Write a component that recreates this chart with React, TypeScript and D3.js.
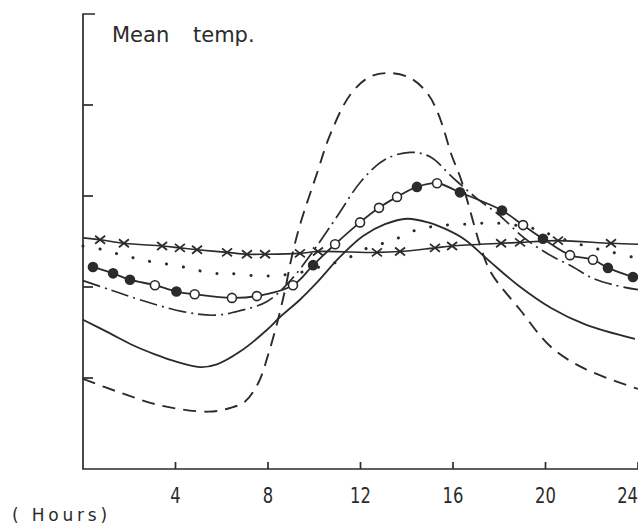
import * as d3 from "d3"

// x axis: hours of the day
const hourTicks = [4, 8, 12, 16, 20, 24]
// y axis: arbitrary mean temperature units
const tempTicks = [1, 2, 3, 4]

// [hour, temp] pairs
const longDash: [number, number][] = [
  [0, 0.99], [1.6, 0.84], [3.33, 0.7], [5.41, 0.63], [6.36, 0.67], [7.0, 0.74],
  [7.57, 0.94], [8.0, 1.25], [8.39, 1.6], [8.74, 1.97], [9.0, 2.3], [9.38, 2.68],
  [10.12, 3.25], [10.68, 3.67], [11.55, 4.11], [12.41, 4.31], [13.36, 4.35],
  [14.2, 4.29], [14.92, 4.12], [15.35, 3.91], [15.65, 3.69], [15.91, 3.47],
  [16.35, 3.18], [16.74, 2.84], [17.17, 2.46], [17.64, 2.16], [18.9, 1.75],
  [20.24, 1.34], [21.71, 1.1], [24, 0.88],
]

const dashDot: [number, number][] = [
  [0, 2.07], [1.17, 1.97], [2.46, 1.86], [4.32, 1.73], [5.71, 1.69], [6.79, 1.74],
  [7.96, 1.84], [9.0, 2.08], [10.0, 2.41], [11.0, 2.78], [12.02, 3.16], [13.06, 3.4],
  [14.14, 3.48], [15.01, 3.43], [16.0, 3.2], [17.0, 2.98], [18.0, 2.79], [18.98, 2.56],
  [20.06, 2.37], [21.19, 2.22], [22.01, 2.1], [23.0, 2.02], [24, 1.97],
]

const circleLine: [number, number][] = [
  [0.43, 2.22], [1.3, 2.15], [2.03, 2.08], [3.11, 2.02], [4.04, 1.95], [4.83, 1.92],
  [6.44, 1.88], [7.52, 1.9], [9.08, 2.02], [9.95, 2.24], [10.9, 2.47], [11.98, 2.71],
  [12.8, 2.87], [13.58, 2.99], [14.44, 3.1], [15.31, 3.14], [16.3, 3.04], [18.12, 2.84],
  [19.03, 2.68], [19.89, 2.53], [21.06, 2.35], [22.05, 2.3], [22.7, 2.21], [23.78, 2.11],
]
// which circle markers are filled (1) or open (0)
const circleFilled = [1, 1, 1, 0, 1, 0, 0, 0, 0, 1, 0, 0, 0, 0, 1, 0, 1, 1, 0, 1, 0, 0, 1, 1]

const crossLine: [number, number][] = [
  [0, 2.54], [0.74, 2.52], [1.77, 2.48], [3.42, 2.45], [4.19, 2.43], [4.93, 2.41],
  [6.23, 2.38], [7.09, 2.36], [7.87, 2.36], [9.38, 2.37], [10.16, 2.39], [12.71, 2.38],
  [13.71, 2.39], [15.22, 2.43], [15.96, 2.45], [18.08, 2.48], [18.9, 2.49], [20.54, 2.51],
  [22.83, 2.48], [24, 2.47],
]
// markers drawn on every point except the ends
const crossMarked = [0, 1, 1, 1, 1, 1, 1, 1, 1, 1, 1, 1, 1, 1, 1, 1, 1, 1, 1, 0]

const dotted: [number, number][] = [
  [0, 2.45], [0.86, 2.41], [1.69, 2.35], [2.38, 2.31], [3.11, 2.27], [3.98, 2.24],
  [4.84, 2.19], [5.62, 2.15], [6.27, 2.15], [7.09, 2.13], [7.87, 2.12], [8.52, 2.13],
  [9.25, 2.15], [10.08, 2.21], [10.81, 2.26], [11.55, 2.33], [12.32, 2.43], [13.1, 2.49],
  [13.75, 2.55], [14.44, 2.63], [15.01, 2.66], [15.65, 2.68], [16.52, 2.69], [17.25, 2.7],
  [18.03, 2.7], [18.9, 2.67], [19.68, 2.63], [20.28, 2.57], [21.19, 2.49], [22.05, 2.43],
  [22.92, 2.38], [23.74, 2.33],
]

const solid: [number, number][] = [
  [0, 1.64], [1.17, 1.49], [2.16, 1.36], [3.11, 1.26], [3.89, 1.19], [5.06, 1.12],
  [5.79, 1.15], [6.79, 1.29], [7.96, 1.53], [8.52, 1.67], [9.38, 1.86], [10.12, 2.05],
  [11.11, 2.33], [12.11, 2.56], [13.06, 2.69], [14.01, 2.75], [14.92, 2.71],
  [15.74, 2.63], [16.52, 2.52], [17.64, 2.27], [18.81, 2.02], [20.24, 1.77],
  [21.71, 1.59], [23.87, 1.43],
]

const W = 638
const H = 524
const ink = "#2b2b2b"

export default function App() {
  const x = d3.scaleLinear().domain([0, 24]).range([83, 638])
  const y = d3.scaleLinear().domain([0, 5]).range([469, 14])

  const line = d3
    .line<[number, number]>()
    .x((d) => x(d[0]))
    .y((d) => y(d[1]))
    .curve(d3.curveCatmullRom.alpha(0.5))

  return (
    <svg
      width={W}
      height={H}
      style={{ position: "absolute", left: 0, top: 0, background: "#fff" }}
      fontFamily="DejaVu Sans, sans-serif"
    >
      <rect width={W} height={H} fill="#fff" />

      {/* axes */}
      <g stroke={ink} strokeWidth={1.7} fill="none">
        <path d={`M${x(0) + 12},${y(5)}H${x(0)}V${y(0)}H${x(24)}`} />
        {tempTicks.map((t) => (
          <line key={t} x1={x(0)} x2={x(0) + 10} y1={y(t)} y2={y(t)} />
        ))}
        {hourTicks.map((h) => (
          <line key={h} x1={x(h)} x2={x(h)} y1={y(0)} y2={y(0) - 7} />
        ))}
      </g>
      {hourTicks.map((h) => (
        <text
          key={h}
          transform={`translate(${h === 24 ? x(h) : x(h)},503) scale(0.8,1)`}
          textAnchor={h === 24 ? "end" : "middle"}
          fontSize={20.5}
          fill={ink}
        >
          {h}
        </text>
      ))}

      <text x={112} y={42} fontSize={21} fill={ink}>Mean</text>
      <text x={193} y={42} fontSize={21} fill={ink}>temp.</text>
      <text x={12} y={521} fontSize={17} letterSpacing={3.8} fill={ink}>( Hours)</text>

      {/* curves */}
      <g fill="none" stroke={ink}>
        <path d={line(longDash) ?? ""} strokeWidth={1.9} strokeDasharray="13 8" />
        <path d={line(dashDot) ?? ""} strokeWidth={1.7} strokeDasharray="18 5 2 5" />
        <path d={line(solid) ?? ""} strokeWidth={1.8} />
        <path d={line(crossLine) ?? ""} strokeWidth={1.6} />
        <path d={line(circleLine) ?? ""} strokeWidth={1.8} />
        <path
          d={line(dotted) ?? ""}
          strokeWidth={3}
          strokeLinecap="round"
          strokeDasharray="0.1 17"
        />
      </g>

      {/* markers */}
      <g stroke={ink} strokeWidth={1.8}>
        {crossLine.map((d, i) =>
          crossMarked[i] ? (
            <path
              key={i}
              d={`M${x(d[0]) - 5},${y(d[1]) - 4}L${x(d[0]) + 5},${y(d[1]) + 4}M${x(d[0]) - 5},${y(d[1]) + 4}L${x(d[0]) + 5},${y(d[1]) - 4}`}
              fill="none"
            />
          ) : null
        )}
        {circleLine.map((d, i) => (
          <circle
            key={i}
            cx={x(d[0])}
            cy={y(d[1])}
            r={4.5}
            fill={circleFilled[i] ? ink : "#fff"}
            strokeWidth={1.6}
          />
        ))}
      </g>
    </svg>
  )
}
